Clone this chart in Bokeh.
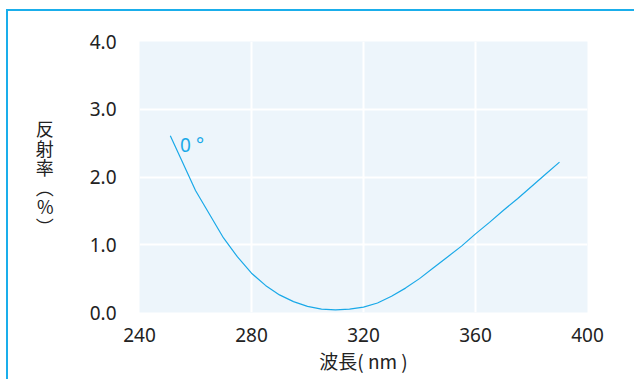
from bokeh.plotting import figure
from bokeh.models import FixedTicker, Label
from bokeh.embed import file_html
from bokeh.resources import INLINE

# data (wavelength nm, reflectance %)
wavelength = [251, 255, 260, 265, 270, 275, 280, 285, 290, 295, 300, 305, 310,
              315, 320, 325, 330, 335, 340, 345, 350, 355, 360, 365, 370, 375,
              380, 385, 390]
reflectance = [2.61, 2.25, 1.80, 1.45, 1.10, 0.82, 0.58, 0.40, 0.26, 0.16, 0.09, 0.05, 0.04,
               0.05, 0.08, 0.14, 0.24, 0.36, 0.50, 0.66, 0.82, 0.98, 1.16, 1.33, 1.51, 1.68,
               1.86, 2.04, 2.22]
x_ticks = [240, 280, 320, 360, 400]
y_ticks = [0, 1, 2, 3, 4]
series_label = "0 °"
x_title = "波長( nm )"
y_title = "反\n射\n率\n︵\n%\n︶"

BLUE = "#1AA9E8"
TXT = "#222222"

p = figure(width=628, height=370, x_range=(240, 400), y_range=(0, 4),
           output_backend="svg", toolbar_location=None,
           min_border_left=131, min_border_right=49, min_border_top=30, min_border_bottom=69)
p.styles = {"margin-left": "6px", "margin-top": "9px",
            "border-left": "2px solid #1AAEEB", "border-top": "2px solid #1AAEEB"}
p.background_fill_color = "#EDF5FB"
p.border_fill_color = "white"
p.outline_line_color = None

p.xgrid.grid_line_color = "white"
p.ygrid.grid_line_color = "white"
p.xgrid.grid_line_width = 2
p.ygrid.grid_line_width = 2

p.xaxis.ticker = FixedTicker(ticks=x_ticks)
p.yaxis.ticker = FixedTicker(ticks=y_ticks)
p.yaxis.major_label_overrides = {t: f"{t:.1f}" for t in y_ticks}
p.xgrid.ticker = FixedTicker(ticks=x_ticks)
p.ygrid.ticker = FixedTicker(ticks=y_ticks)

for ax in (p.xaxis[0], p.yaxis[0]):
    ax.axis_line_color = None
    ax.major_tick_line_color = None
    ax.minor_tick_line_color = None
    ax.major_label_text_font = "Noto Sans"
    ax.major_label_text_font_size = "19px"
    ax.major_label_text_color = TXT
    ax.axis_label_text_font = "Noto Sans CJK JP"
    ax.axis_label_text_font_style = "normal"
    ax.axis_label_text_color = TXT

p.xaxis.axis_label_text_font_size = "19px"
p.yaxis.axis_label_text_font_size = "18px"
p.xaxis.major_label_standoff = 9
p.yaxis.major_label_standoff = 17
p.xaxis.axis_label = x_title
p.xaxis.axis_label_standoff = 2
p.yaxis.axis_label = y_title
p.yaxis.axis_label_orientation = "horizontal"
p.yaxis.axis_label_text_line_height = 0.75
p.yaxis.axis_label_standoff = 33

p.line(wavelength, reflectance, line_color=BLUE, line_width=1.2)

p.add_layout(Label(x=254.5, y=2.47, text=series_label, text_color=BLUE,
                   text_font="Noto Sans", text_font_size="19px", text_baseline="middle"))

open("out.html", "w").write(file_html(p, INLINE))
